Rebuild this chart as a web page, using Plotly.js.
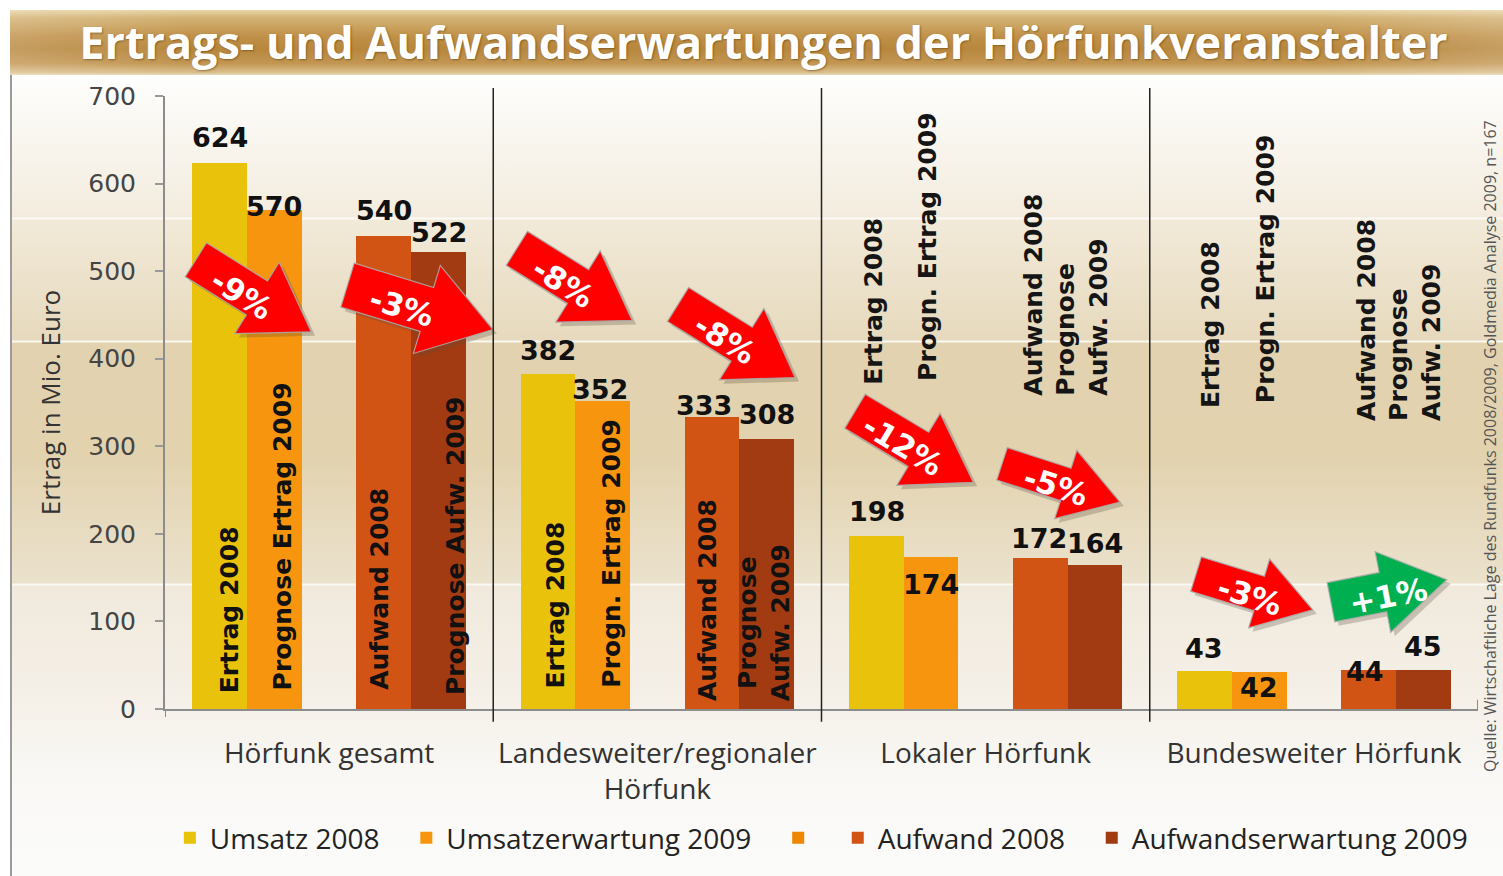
<!DOCTYPE html>
<html><head><meta charset="utf-8">
<script src="https://cdn.plot.ly/plotly-3.0.1.min.js"></script>
<style>
html,body{margin:0;padding:0;width:1503px;height:876px;overflow:hidden;background:#fff;}
#wrap{position:relative;width:1503px;height:876px;}
#bg{position:absolute;left:10px;top:75px;width:1493px;height:801px;border-left:2px solid #9a9a9a;box-sizing:border-box;
background:linear-gradient(to bottom,#fefefd 0px,#f3ecde 142px,#fcfaf5 143px,#fcfaf5 144px,#f2ead9 145px,#e6d9bd 265px,#fbf8f1 266px,#fbf8f1 267px,#e2d2b0 268px,#e2d2ae 380px,#ebe2cd 508px,#fbf9f4 509px,#fbf9f4 510px,#f0e9dc 511px,#f5f0e8 625px,#f9f8f5 700px,#fbfbfa 801px);}
#banner{position:absolute;left:10px;top:10px;width:1493px;height:65px;
background:linear-gradient(to right,rgba(255,255,255,0.18),rgba(255,255,255,0) 12%,rgba(255,255,255,0) 88%,rgba(255,255,255,0.18)),
linear-gradient(to bottom,#e9d5a8 0%,#d3b274 12%,#c09149 40%,#b8873d 60%,#c29652 82%,#dabf8c 96%,#eadbbc 100%);}
#chart{position:absolute;left:0;top:0;width:1503px;height:876px;}
</style></head>
<body><div id="wrap"><div id="banner"></div><div id="bg"></div><div id="chart"></div></div>
<script>
// ---- data ----
const categories = ['Hörfunk gesamt', 'Landesweiter/regionaler<br>Hörfunk', 'Lokaler Hörfunk', 'Bundesweiter Hörfunk'];
const seriesNames = ['Umsatz 2008', 'Umsatzerwartung 2009', 'Aufwand 2008', 'Aufwandserwartung 2009'];
const ertrag2008 = [624, 382, 198, 43];
const prognoseErtrag2009 = [570, 352, 174, 42];
const aufwand2008 = [540, 333, 172, 44];
const prognoseAufwand2009 = [522, 308, 164, 45];
const changeLabels = ['-9%', '-3%', '-8%', '-8%', '-12%', '-5%', '-3%', '+1%'];
const barNames = [
  ['Ertrag 2008', 'Prognose Ertrag 2009', 'Aufwand 2008', 'Prognose Aufw. 2009'],
  ['Ertrag 2008', 'Progn. Ertrag 2009', 'Aufwand 2008', 'Prognose<br>Aufw. 2009'],
  ['Ertrag 2008', 'Progn. Ertrag 2009', 'Aufwand 2008<br>Prognose<br>Aufw. 2009'],
  ['Ertrag 2008', 'Progn. Ertrag 2009', 'Aufwand 2008<br>Prognose<br>Aufw. 2009']
];
const sourceText = 'Quelle: Wirtschaftliche Lage des Rundfunks 2008/2009, Goldmedia Analyse 2009, n=167';
const titleText = 'Ertrags- und Aufwandserwartungen der Hörfunkveranstalter';

// ---- layout helpers (positions / styles) ----
const series = [ertrag2008, prognoseErtrag2009, aufwand2008, prognoseAufwand2009];
const colors = ['#e9c20b', '#f7960e', '#d25415', '#a23b11'];
const slotCenters = [2/12, 4/12, 8/12, 10/12];
const barWidth = 2/12;
const legendPad = '\u00a0\u00a0\u00a0';
// value label offsets [dx, dy] in px relative to bar top
const valueOffsets = [
  [[0,25],[0,24],[1,24],[0,23]],
  [[0,3],[-3,11],[0,-28],[0,-15]],
  [[0,26],[-8,12],[-1,20],[-4,-1]],
  [[0,19],[0,25],[0,22],[0,23]]
];
// bar name label placement: [slot position (in 1/12 of group), dx px, height above axis px, align, inside]
const namePlace = [
  [[2,10,14,'left',1],[4,8,17,'left',1],[8,-5,17,'left',1],[10,17,12,'left',1]],
  [[2,8,19,'left',1],[4,8,19,'left',1],[8,-5,6,'left',1],[10,-3,6,'center',1]],
  [[2,-3,322,'left',0],[4,-4,326,'left',0],[9,-2,311,'left',0]],
  [[2,6,299,'left',0],[4,6,304,'left',0],[9,3,286,'left',0]]
];
// arrows: anchor (back centre) x,y in axis units, angle deg, length, half width, head half width, head length, color
const arrowGeom = [
  [0.094,513,32,136,20,42,64,'#ff0000'],
  [0.556,484,17,152,23,46,69,'#ff0000'],
  [1.072,526,32,136,20,42,64,'#ff0000'],
  [1.563,462,32,138,20,42,63,'#ff0000'],
  [2.102,340,31,138,20,42,64,'#ff0000'],
  [2.550,280,18,124,17,36,57,'#ff0000'],
  [3.141,154,17,122,18,36,56,'#ff0000'],
  [3.552,122,-11,118,20,41,65,'#00b050']
];

const traces = series.map((vals, s) => ({
  type: 'bar', name: seriesNames[s] + (s === 3 ? '' : legendPad),
  x: vals.map((_, g) => g + slotCenters[s]), y: vals, width: barWidth,
  marker: {color: colors[s], line: {width: 0}}, hoverinfo: 'skip'
}));
traces.splice(2, 0, {type: 'bar', name: '\u00a0\u00a0', x: [null], y: [null], marker: {color: '#ef8600'}, hoverinfo: 'skip'});

const annotations = [];
const shapes = [];

// value labels
series.forEach((vals, s) => vals.forEach((v, g) => {
  const o = valueOffsets[s][g];
  annotations.push({x: g + slotCenters[s], y: v, xref: 'x', yref: 'y', text: String(v), showarrow: false,
    xshift: o[0], yshift: o[1], xanchor: 'center', yanchor: 'middle',
    font: {family: 'DejaVu Sans', size: 27, color: '#111', weight: 700}});
}));

// bar name labels
barNames.forEach((names, g) => names.forEach((t, i) => {
  const p = namePlace[g][i];
  annotations.push({x: g + p[0]/12, y: 0, xref: 'x', yref: 'y', text: t, showarrow: false, textangle: -90,
    xshift: p[1], yshift: p[2], xanchor: 'center', yanchor: 'bottom', align: p[3],
    font: p[4] ? {family: 'DejaVu Sans', size: 25, color: '#111', weight: 700}
               : {family: 'DejaVu Sans', size: 25, color: '#151515', weight: 700}});
}));

// arrows
function arrowPath(L, hw, hh, hl, theta, ox, oy) {
  const t = theta * Math.PI / 180, c = Math.cos(t), s = Math.sin(t);
  const Lb = L - hl;
  const pts = [[0,-hw],[Lb,-hw],[Lb,-hh],[L,0],[Lb,hh],[Lb,hw],[0,hw]];
  return 'M' + pts.map(([u, v]) => {
    const sx = u*c - v*s + ox, sy = u*s + v*c + oy;
    return sx.toFixed(1) + ',' + (-sy).toFixed(1);
  }).join('L') + 'Z';
}
arrowGeom.forEach((a, i) => {
  const [ax, ay, th, L, hw, hh, hl, col] = a;
  const base = {type: 'path', xref: 'x', yref: 'y', xsizemode: 'pixel', ysizemode: 'pixel', xanchor: ax, yanchor: ay, layer: 'above'};
  shapes.push(Object.assign({}, base, {path: arrowPath(L, hw, hh, hl, th, 4, 4), fillcolor: 'rgba(90,80,60,0.28)', line: {width: 0}}));
  shapes.push(Object.assign({}, base, {path: arrowPath(L, hw, hh, hl, th, 0, 0), fillcolor: col, line: {color: 'rgba(170,170,170,0.9)', width: 1.2}}));
  const t = th * Math.PI / 180, u = 58, v = 5;
  annotations.push({x: ax, y: ay, xref: 'x', yref: 'y', text: changeLabels[i], showarrow: false, textangle: th,
    xshift: u*Math.cos(t) - v*Math.sin(t), yshift: -(u*Math.sin(t) + v*Math.cos(t)),
    xanchor: 'center', yanchor: 'middle',
    font: {family: 'DejaVu Sans', size: 31, color: '#ffffff', weight: 700}});
});

// group separators and axis end ticks
[1, 2, 3].forEach(xv => shapes.push({type: 'line', xref: 'x', yref: 'paper', x0: xv, x1: xv, y0: -0.021, y1: 1.013,
  line: {color: '#222', width: 1.5}, layer: 'above'}));
shapes.push({type: 'line', xref: 'x', yref: 'paper', x0: 0, x1: 0, y0: -0.013, y1: 0, line: {color: '#8c8c8c', width: 2}});
shapes.push({type: 'line', xref: 'x', yref: 'paper', x0: 4, x1: 4, y0: 0, y1: 0.015, line: {color: '#8c8c8c', width: 2}});

// source note
annotations.push({xref: 'paper', yref: 'paper', x: 1.0095, y: 0.43, text: sourceText, showarrow: false, textangle: -90,
  xanchor: 'center', yanchor: 'middle', font: {family: 'Open Sans', size: 16, color: '#555'}});

const layout = {
  width: 1503, height: 876,
  margin: {l: 165, r: 25, t: 96, b: 167, pad: 0},
  paper_bgcolor: 'rgba(0,0,0,0)', plot_bgcolor: 'rgba(0,0,0,0)',
  title: {text: titleText, font: {family: 'Open Sans', size: 45, color: '#ffffff', weight: 700, shadow: '1px 1px 2px rgba(90,60,10,0.55)'},
    x: 0.508, xref: 'container', xanchor: 'center', y: 1 - 43/876, yref: 'container', yanchor: 'middle'},
  barmode: 'overlay', bargap: 0,
  showlegend: true,
  xaxis: {range: [0, 4], tickvals: [0.5, 1.5, 2.5, 3.5], ticktext: categories, ticks: '', showline: true,
    linecolor: '#8c8c8c', linewidth: 2, showgrid: false, zeroline: false, automargin: false, fixedrange: true,
    tickfont: {family: 'Open Sans', size: 28, color: '#333'}, ticklabelstandoff: 18},
  yaxis: {range: [0, 700], dtick: 100, ticks: 'outside', ticklen: 8, tickcolor: '#999', tickwidth: 2,
    showline: true, linecolor: '#8c8c8c', linewidth: 2, showgrid: false, zeroline: false, automargin: false, fixedrange: true,
    tickfont: {family: 'DejaVu Sans', size: 25, color: '#444'}, ticklabelstandoff: 14,
    title: {text: 'Ertrag in Mio. Euro', font: {family: 'Open Sans', size: 26, color: '#333'}, standoff: 20}},
  legend: {orientation: 'h', xref: 'container', x: 0.113, xanchor: 'left', yref: 'container', y: 1 - 838/876, yanchor: 'middle', traceorder: 'normal',
    font: {family: 'Open Sans', size: 28, color: '#222'}, bgcolor: 'rgba(0,0,0,0)'},
  shapes: shapes, annotations: annotations
};

Plotly.newPlot('chart', traces, layout, {staticPlot: true, displayModeBar: false});
</script></body></html>
